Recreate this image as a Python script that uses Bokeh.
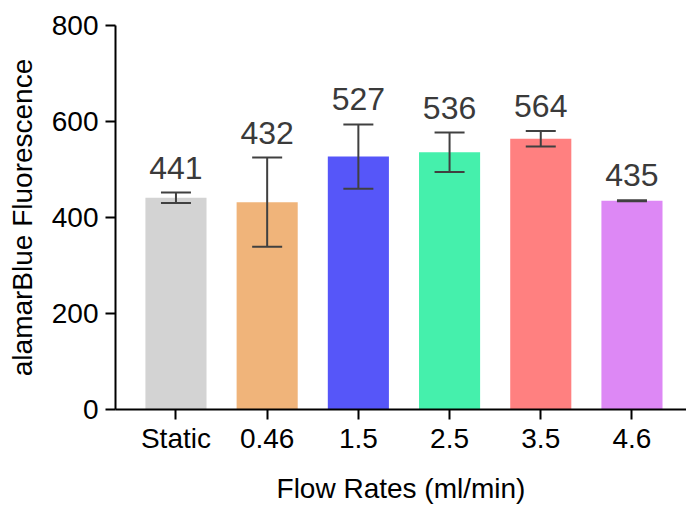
from bokeh.plotting import figure
from bokeh.models import ColumnDataSource, Range1d, FixedTicker, Whisker, TeeHead, LabelSet
from bokeh.core.properties import value
from bokeh.embed import file_html
from bokeh.resources import INLINE

categories = ["Static", "0.46", "1.5", "2.5", "3.5", "4.6"]
means = [441, 432, 527, 536, 564, 435]
errors = [11, 93, 67, 41, 16, 1]
colors = ["#d3d3d3", "#f0b47a", "#5656f9", "#45f0ac", "#ff8080", "#dd88f5"]
y_ticks = [0, 200, 400, 600, 800]

FONT = "Liberation Sans"
xs = list(range(len(categories)))
src = ColumnDataSource(dict(
    x=xs,
    top=means,
    upper=[m + e for m, e in zip(means, errors)],
    lower=[m - e for m, e in zip(means, errors)],
    color=colors,
    label=[str(m) for m in means],
))

p = figure(width=686, height=506, output_backend="svg", toolbar_location=None,
           x_range=Range1d(-0.663, 5.598), y_range=Range1d(0, 800),
           min_border_left=115, min_border_right=0, min_border_top=25, min_border_bottom=97)
p.outline_line_color = None
p.grid.visible = False

p.vbar(x="x", top="top", width=0.67, bottom=0, color="color", line_color=None, source=src)

head_u = TeeHead(size=30, line_color="#404040", line_width=2)
head_l = TeeHead(size=30, line_color="#404040", line_width=2)
p.add_layout(Whisker(source=src, base="x", upper="upper", lower="lower", dimension="height",
                     line_color="#404040", line_width=2, upper_head=head_u, lower_head=head_l,
                     level="overlay"))

p.add_layout(LabelSet(x="x", y="upper", text="label", source=src, y_offset=14,
                      text_align="center", text_baseline="alphabetic",
                      text_font=value(FONT), text_font_size="32px", text_color="#3a3a3a"))

p.xaxis.ticker = FixedTicker(ticks=xs)
p.xaxis.major_label_overrides = {i: c for i, c in enumerate(categories)}
p.yaxis.ticker = FixedTicker(ticks=y_ticks)

for ax in (p.xaxis, p.yaxis):
    ax.axis_line_width = 2
    ax.axis_line_color = "black"
    ax.major_tick_line_width = 2
    ax.major_tick_line_color = "black"
    ax.major_tick_out = 10
    ax.major_tick_in = 0
    ax.minor_tick_line_color = None
    ax.major_label_text_font = FONT
    ax.major_label_text_font_size = "28px"
    ax.major_label_text_color = "black"
    ax.axis_label_text_font = FONT
    ax.axis_label_text_font_size = "28px"
    ax.axis_label_text_font_style = "normal"
    ax.axis_label_text_color = "black"

p.xaxis.axis_label = "Flow Rates (ml/min)"
p.yaxis.axis_label = "alamarBlue Fluorescence"
p.xaxis.major_label_standoff = 3
p.yaxis.major_label_standoff = 7
p.xaxis.axis_label_standoff = 16
p.yaxis.axis_label_standoff = 11

open("out.html", "w").write(file_html(p, INLINE))
